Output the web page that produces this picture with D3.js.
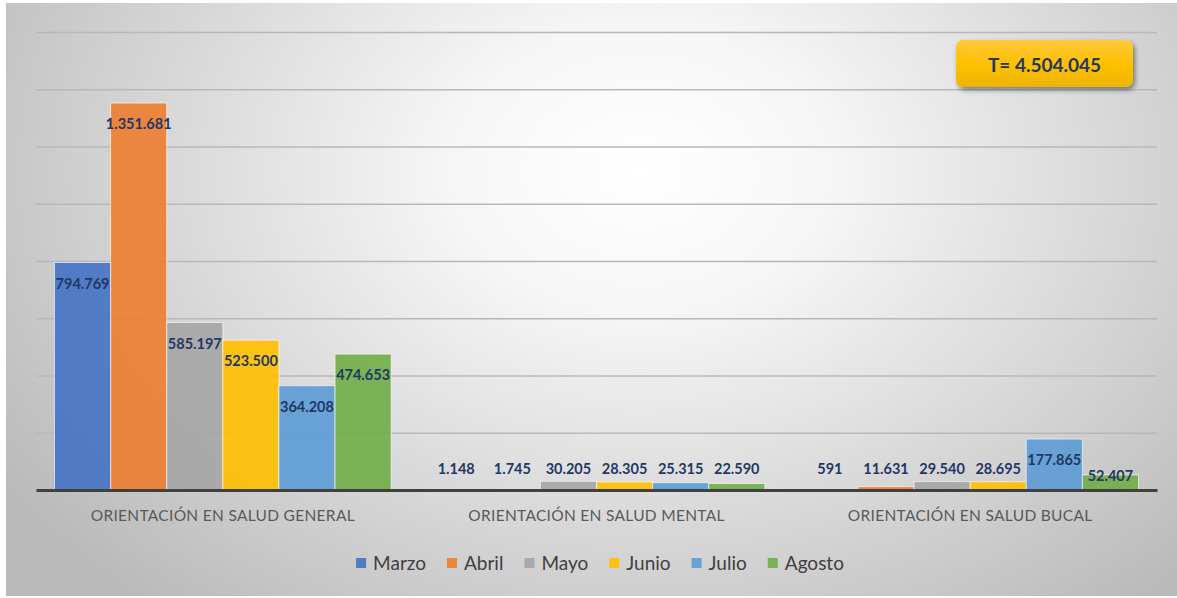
<!DOCTYPE html>
<html><head><meta charset="utf-8">
<script src="https://cdn.jsdelivr.net/npm/d3@7"></script>
<style>html,body{margin:0;padding:0;background:#fff;}svg{display:block;}</style>
</head><body>
<svg id="chart" width="1177" height="598"></svg>
<script>
const categories = ["ORIENTACIÓN EN SALUD GENERAL", "ORIENTACIÓN EN SALUD MENTAL", "ORIENTACIÓN EN SALUD BUCAL"];
const months = ["Marzo", "Abril", "Mayo", "Junio", "Julio", "Agosto"];
const marzo  = [794769, 1148, 591];
const abril  = [1351681, 1745, 11631];
const mayo   = [585197, 30205, 29540];
const junio  = [523500, 28305, 28695];
const julio  = [364208, 25315, 177865];
const agosto = [474653, 22590, 52407];
const yTicks = [0, 200000, 400000, 600000, 800000, 1000000, 1200000, 1400000, 1600000];
const totalLabel = "T= 4.504.045";
const colors = ["#4472C4", "#ED7D31", "#A5A5A5", "#FFC000", "#5B9BD5", "#70AD47"];

const seriesValues = [marzo, abril, mayo, junio, julio, agosto];
const fmt = v => d3.format(",")(v).replace(/,/g, ".");

const svg = d3.select("#chart");
const defs = svg.append("defs");
const bg = defs.append("radialGradient").attr("id", "bg")
  .attr("gradientUnits", "userSpaceOnUse").attr("cx", 640).attr("cy", 170).attr("r", 760)
  .attr("gradientTransform", "translate(640,170) scale(1,0.75) translate(-640,-170)");
bg.append("stop").attr("offset", "0").attr("stop-color", "#ffffff");
bg.append("stop").attr("offset", "0.25").attr("stop-color", "#f6f6f6");
bg.append("stop").attr("offset", "1").attr("stop-color", "#bababa");
const yg = defs.append("linearGradient").attr("id", "yg").attr("x1", 0).attr("y1", 0).attr("x2", 0).attr("y2", 1);
yg.append("stop").attr("offset", "0").attr("stop-color", "#FFC840");
yg.append("stop").attr("offset", "0.5").attr("stop-color", "#FFC000");
yg.append("stop").attr("offset", "1").attr("stop-color", "#EDB400");
const sh = defs.append("filter").attr("id", "sh").attr("x", "-20%").attr("y", "-30%").attr("width", "140%").attr("height", "170%");
sh.append("feDropShadow").attr("dx", 2).attr("dy", 3).attr("stdDeviation", 2.5).attr("flood-color", "#000").attr("flood-opacity", 0.45);

svg.append("rect").attr("x", 6).attr("y", 3).attr("width", 1171).attr("height", 593).attr("fill", "url(#bg)");

const plotLeft = 36, plotRight = 1157, baseline = 490, plotTop = 32;
const x0 = d3.scaleBand().domain(categories).range([plotLeft, plotRight]).paddingInner(0).paddingOuter(0);
const x1 = d3.scaleBand().domain(months).range([0, x0.bandwidth()]).paddingOuter(0.33).paddingInner(0);
const y = d3.scaleLinear().domain([0, 1600000]).range([baseline, plotTop]);

// gridlines
const grid = svg.append("g").attr("transform", `translate(${plotLeft},0)`)
  .call(d3.axisLeft(y).tickValues(yTicks.slice(1)).tickSize(-(plotRight - plotLeft)).tickFormat(""));
grid.select(".domain").remove();
grid.selectAll("line").attr("stroke", "#b8b8b8").attr("stroke-width", 1.3);

// bars
const groups = svg.append("g").selectAll("g").data(categories).join("g")
  .attr("transform", d => `translate(${x0(d)},0)`);
groups.selectAll("rect").data((c, ci) => months.map((m, mi) => ({m, mi, v: seriesValues[mi][ci]})))
  .join("rect")
  .attr("x", d => x1(d.m)).attr("width", x1.bandwidth())
  .attr("y", d => y(d.v)).attr("height", d => baseline - y(d.v))
  .attr("fill", d => colors[d.mi]).attr("fill-opacity", 0.9)
  .attr("stroke", "#ffffff").attr("stroke-opacity", 0.6).attr("stroke-width", 1);

// axis baseline
svg.append("g").attr("transform", `translate(0,${baseline})`)
  .call(d3.axisBottom(x0).tickSize(0).tickFormat(""))
  .call(g => g.select(".domain").attr("stroke", "#404040").attr("stroke-width", 3.2));

// data labels
groups.selectAll("text").data((c, ci) => months.map((m, mi) => ({m, mi, v: seriesValues[mi][ci]})))
  .join("text")
  .attr("x", d => x1(d.m) + x1.bandwidth() / 2)
  .attr("y", d => {
    const t = y(d.v), h = baseline - t;
    return h >= 14 ? t + Math.min(21, h - 14) : baseline - 21;
  })
  .attr("dy", "0.35em")
  .attr("text-anchor", "middle")
  .attr("font-family", "Lato, 'Open Sans', sans-serif").attr("font-weight", "bold").attr("font-size", 14.5)
  .attr("fill", "#1F3864")
  .text(d => fmt(d.v));

// category labels
svg.append("g").selectAll("text").data(categories).join("text")
  .attr("x", d => x0(d) + x0.bandwidth() / 2).attr("y", 516).attr("dy", "0.35em")
  .attr("text-anchor", "middle")
  .attr("font-family", "Lato, 'Open Sans', sans-serif").attr("font-size", 15.5)
  .attr("letter-spacing", 0.3)
  .attr("fill", "#595959")
  .text(d => d);

// legend
const legend = svg.append("g");
const items = legend.selectAll("g").data(months).join("g");
items.append("rect").attr("width", 10).attr("height", 10).attr("y", -5)
  .attr("fill", (d, i) => colors[i]).attr("fill-opacity", 0.9);
items.append("text").attr("x", 17).attr("dy", "0.35em")
  .attr("font-family", "Lato, 'Open Sans', sans-serif").attr("font-size", 19)
  .attr("fill", "#404040").text(d => d);
let lx = 0;
items.each(function() {
  const w = this.querySelector("text").getComputedTextLength();
  d3.select(this).attr("transform", `translate(${lx},0)`);
  lx += 17 + w + 21;
});
lx -= 21;
legend.attr("transform", `translate(${600 - lx / 2},563)`);

// total box
const box = svg.append("g").attr("transform", "translate(956,40)");
box.append("rect").attr("width", 177).attr("height", 47).attr("rx", 7)
  .attr("fill", "url(#yg)").attr("filter", "url(#sh)");
box.append("text").attr("x", 88.5).attr("y", 25).attr("dy", "0.35em").attr("text-anchor", "middle")
  .attr("font-family", "Lato, 'Open Sans', sans-serif").attr("font-weight", "bold").attr("font-size", 19)
  .attr("fill", "#1F3864").text(totalLabel);
</script>
</body></html>
